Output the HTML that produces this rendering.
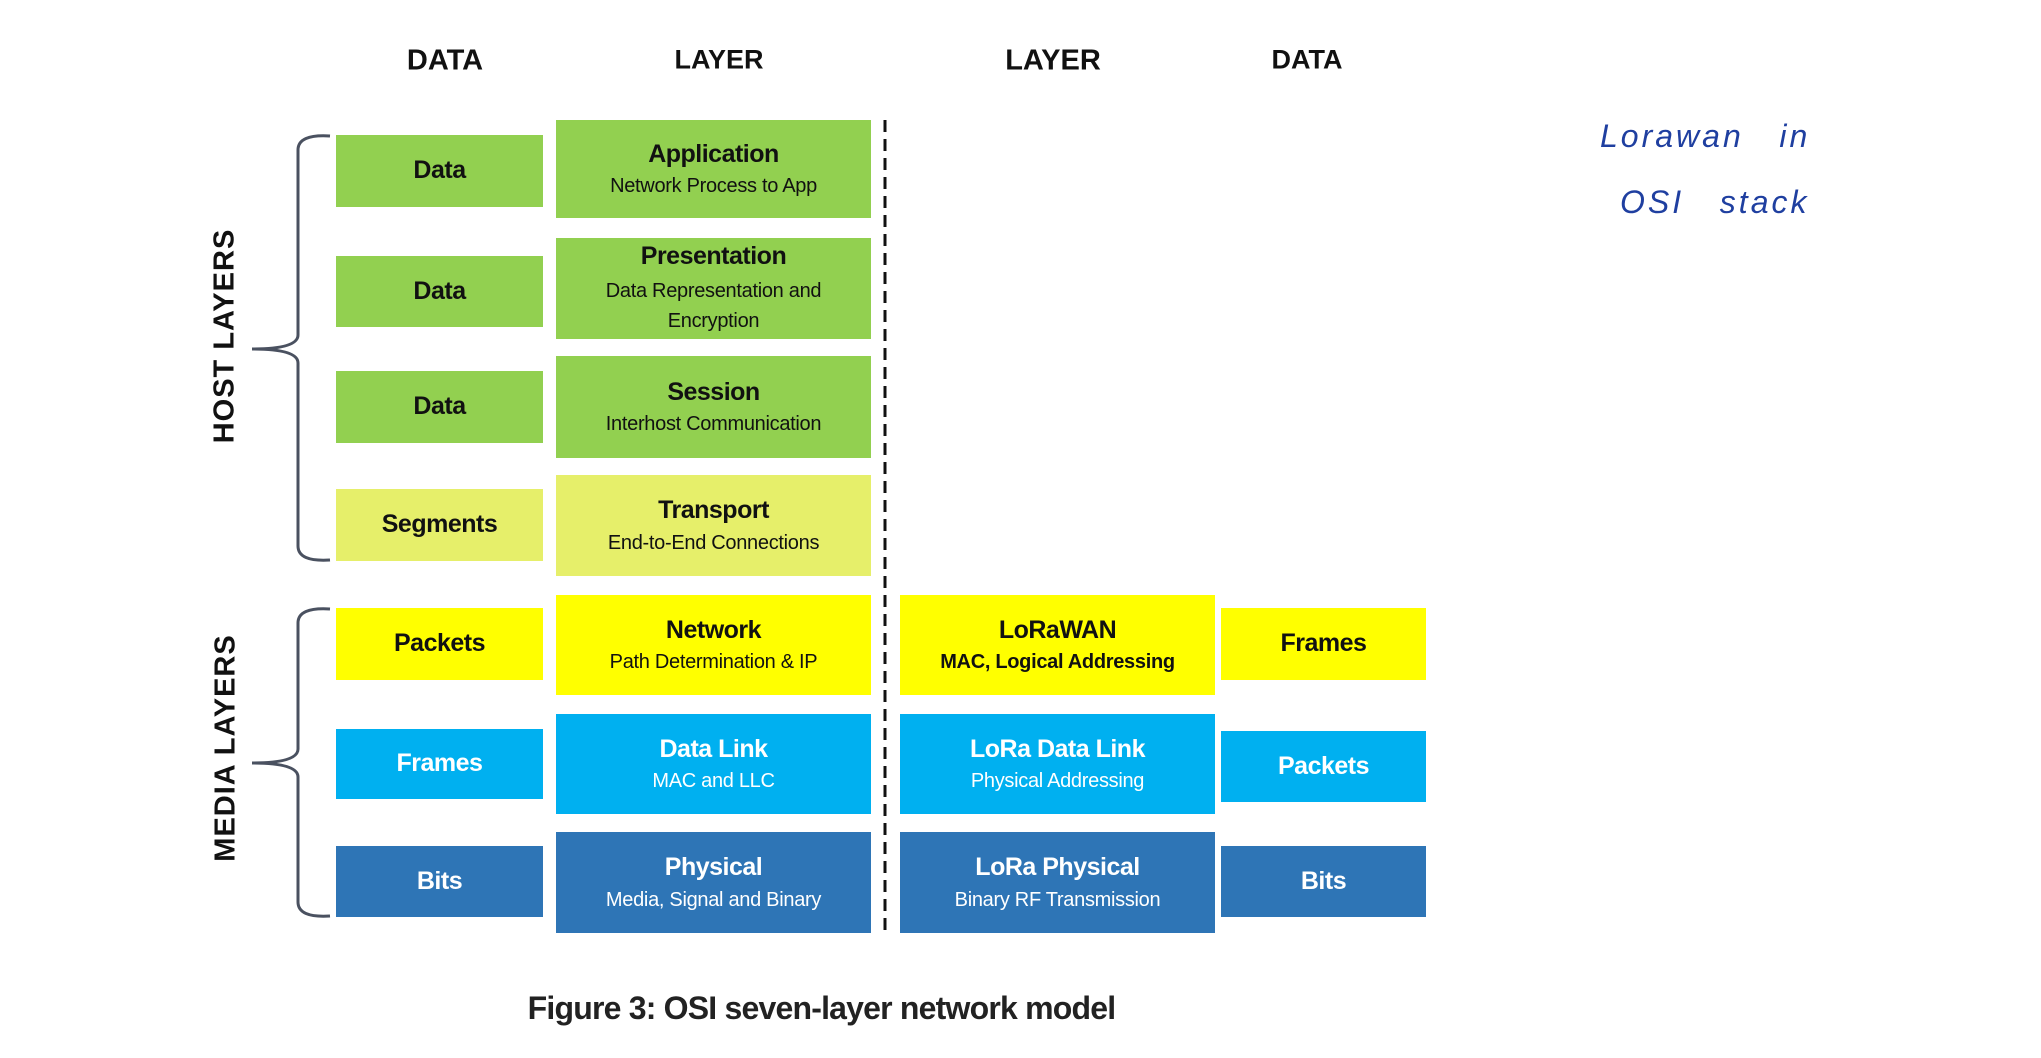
<!DOCTYPE html>
<html><head><meta charset="utf-8"><style>
*{margin:0;padding:0;box-sizing:border-box}
body{width:2041px;height:1058px;background:#fff;position:relative;overflow:hidden;font-family:"Liberation Sans",sans-serif}
.b{position:absolute;display:flex;flex-direction:column;justify-content:center;align-items:center;text-align:center;color:#111;line-height:1.25}
.t{font-weight:bold;font-size:25px;letter-spacing:-0.5px}
.s{font-size:20px;letter-spacing:-0.3px;margin-top:4px}
.d{font-weight:bold;font-size:25px;letter-spacing:-0.5px}
.g{background:#92d050}.yg{background:#e6ef6a}.y{background:#ffff00}.lb{background:#00b0f0;color:#fff}.db{background:#2e75b6;color:#fff}
.h{position:absolute;font-size:29px;transform:translate(-50%,-50%);color:#111;white-space:nowrap;font-weight:bold}
.v{position:absolute;font-weight:bold;font-size:29px;transform:translate(-50%,-50%) rotate(-90deg);white-space:nowrap;color:#111;letter-spacing:1px}
.hw{position:absolute;font-family:"Liberation Sans",sans-serif;font-style:italic;color:#1f3fa0;font-size:32px;white-space:nowrap;letter-spacing:3px}
</style></head><body>
<div class="h" style="left:445px;top:61px">DATA</div>
<div class="h" style="left:719px;top:60px;font-size:27px">LAYER</div>
<div class="h" style="left:1053px;top:61px">LAYER</div>
<div class="h" style="left:1307px;top:60px;font-size:27px">DATA</div>

<div class="b g d" style="left:336px;top:135px;width:207px;height:72px">Data</div>
<div class="b g d" style="left:336px;top:256px;width:207px;height:71px">Data</div>
<div class="b g d" style="left:336px;top:371px;width:207px;height:72px">Data</div>
<div class="b yg d" style="left:336px;top:489px;width:207px;height:72px">Segments</div>
<div class="b y d" style="left:336px;top:608px;width:207px;height:72px">Packets</div>
<div class="b lb d" style="left:336px;top:729px;width:207px;height:70px">Frames</div>
<div class="b db d" style="left:336px;top:846px;width:207px;height:71px">Bits</div>

<div class="b g" style="left:556px;top:120px;width:315px;height:98px"><div class="t">Application</div><div class="s">Network Process to App</div></div>
<div class="b g" style="left:556px;top:238px;width:315px;height:101px"><div class="t">Presentation</div><div class="s" style="line-height:1.5">Data Representation and<br>Encryption</div></div>
<div class="b g" style="left:556px;top:356px;width:315px;height:102px"><div class="t">Session</div><div class="s">Interhost Communication</div></div>
<div class="b yg" style="left:556px;top:475px;width:315px;height:101px"><div class="t">Transport</div><div class="s">End-to-End Connections</div></div>
<div class="b y" style="left:556px;top:595px;width:315px;height:100px"><div class="t">Network</div><div class="s">Path Determination &amp; IP</div></div>
<div class="b lb" style="left:556px;top:714px;width:315px;height:100px"><div class="t">Data Link</div><div class="s">MAC and LLC</div></div>
<div class="b db" style="left:556px;top:832px;width:315px;height:101px"><div class="t">Physical</div><div class="s">Media, Signal and Binary</div></div>

<div class="b y" style="left:900px;top:595px;width:315px;height:100px"><div class="t">LoRaWAN</div><div class="s" style="font-weight:bold">MAC, Logical Addressing</div></div>
<div class="b lb" style="left:900px;top:714px;width:315px;height:100px"><div class="t">LoRa Data Link</div><div class="s">Physical Addressing</div></div>
<div class="b db" style="left:900px;top:832px;width:315px;height:101px"><div class="t">LoRa Physical</div><div class="s">Binary RF Transmission</div></div>

<div class="b y d" style="left:1221px;top:608px;width:205px;height:72px">Frames</div>
<div class="b lb d" style="left:1221px;top:731px;width:205px;height:71px">Packets</div>
<div class="b db d" style="left:1221px;top:846px;width:205px;height:71px">Bits</div>

<svg style="position:absolute;left:0;top:0" width="2041" height="1058">
<line x1="885" y1="120" x2="885" y2="933" stroke="#111" stroke-width="3" stroke-dasharray="12,7"/>
<path d="M330,136 Q298,134 298,150 L298,335 Q298,349 252,349 Q298,349 298,363 L298,546 Q298,562 330,560" fill="none" stroke="#4a5160" stroke-width="3"/>
<path d="M330,609 Q298,607 298,623 L298,749 Q298,763 252,763 Q298,763 298,777 L298,902 Q298,918 330,916" fill="none" stroke="#4a5160" stroke-width="3"/>
</svg>
<div class="v" style="left:225px;top:336px">HOST LAYERS</div>
<div class="v" style="left:226px;top:748px">MEDIA LAYERS</div>

<div style="position:absolute;left:510px;top:990px;width:623px;text-align:center;font-weight:bold;font-size:32px;letter-spacing:-0.8px;color:#222">Figure 3: OSI seven-layer network model</div>

<div class="hw" style="left:1600px;top:118px">Lorawan&nbsp;&nbsp; in</div>
<div class="hw" style="left:1620px;top:184px">OSI&nbsp;&nbsp; stack</div>
</body></html>
